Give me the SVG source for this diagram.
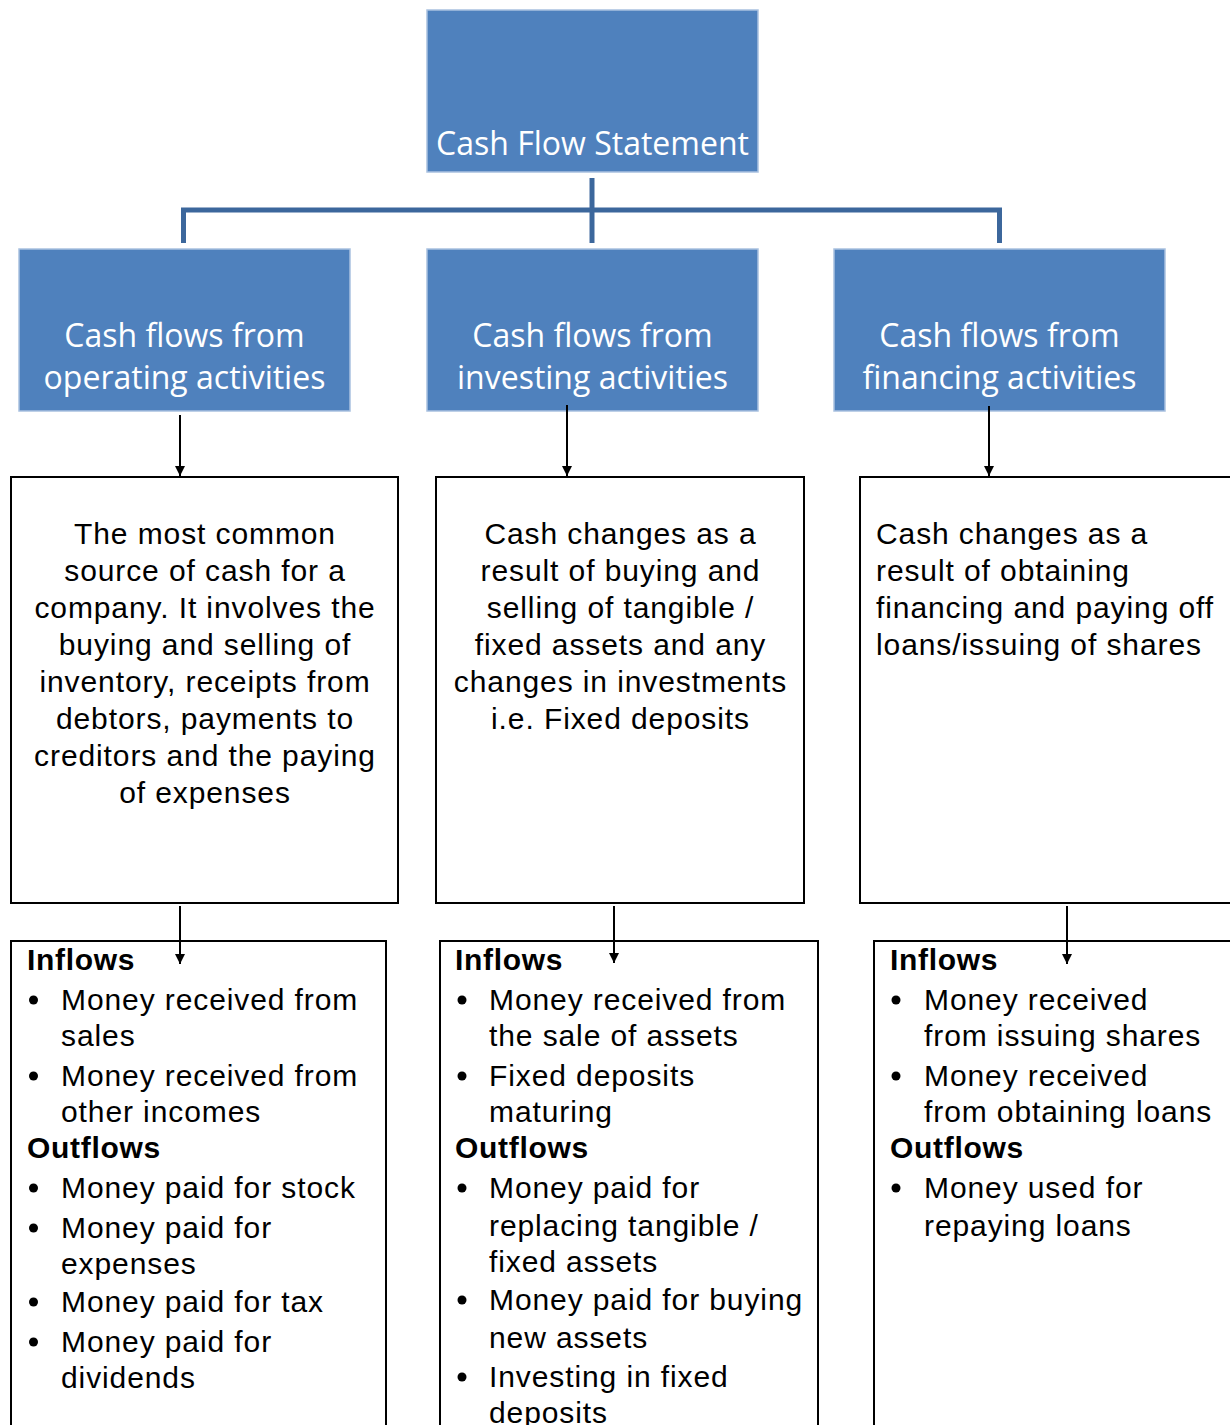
<svg xmlns="http://www.w3.org/2000/svg" width="1230" height="1425" viewBox="0 0 1230 1425">
<defs>
<style>
.blue{fill:#4F81BD;stroke:#A9C1E0;stroke-width:1.5}
.bt{font-family:"Open Sans","Noto Sans",sans-serif;font-size:32px;fill:#FFFFFF;text-anchor:middle}
.box{fill:#FFFFFF;stroke:#000000;stroke-width:2}
.t{font-family:"Liberation Sans",Arial,sans-serif;font-size:30px;fill:#000000;letter-spacing:0.9px}
.c{text-anchor:middle}
.h{font-weight:bold;letter-spacing:0.7px}
.bl{fill:#000000}
.conn{fill:none;stroke:#3C679C;stroke-width:5}
.arr{fill:none;stroke:#000000;stroke-width:2}
</style>
<marker id="ah" markerUnits="userSpaceOnUse" markerWidth="12" markerHeight="12" viewBox="0 0 12 12" refX="10" refY="6" orient="auto">
<path d="M0,1 L10,6 L0,11 Z" fill="#000000"/>
</marker>
</defs>
<rect width="1230" height="1425" fill="#FFFFFF"/>

<g id="cash-flow-statement">
<rect class="blue" x="427" y="10" width="331" height="162"/>
<text class="bt" x="592.5" y="155">Cash Flow Statement</text>
</g>

<g id="operating">
<rect class="blue" x="19" y="249" width="331" height="162"/>
<text class="bt" x="184.5" y="347">Cash flows from</text>
<text class="bt" x="184.5" y="389">operating activities</text>
</g>

<g id="investing">
<rect class="blue" x="427" y="249" width="331" height="162"/>
<text class="bt" x="592.5" y="347">Cash flows from</text>
<text class="bt" x="592.5" y="389">investing activities</text>
</g>

<g id="financing">
<rect class="blue" x="834" y="249" width="331" height="162"/>
<text class="bt" x="999.5" y="347">Cash flows from</text>
<text class="bt" x="999.5" y="389">financing activities</text>
</g>

<g id="operating-desc">
<rect class="box" x="11" y="477" width="387" height="426"/>
<text class="t c" x="205" y="544">The most common</text>
<text class="t c" x="205" y="581">source of cash for a</text>
<text class="t c" x="205" y="618">company. It involves the</text>
<text class="t c" x="205" y="655">buying and selling of</text>
<text class="t c" x="205" y="692">inventory, receipts from</text>
<text class="t c" x="205" y="729">debtors, payments to</text>
<text class="t c" x="205" y="766">creditors and the paying</text>
<text class="t c" x="205" y="803">of expenses</text>
</g>

<g id="investing-desc">
<rect class="box" x="436" y="477" width="368" height="426"/>
<text class="t c" x="620.5" y="544">Cash changes as a</text>
<text class="t c" x="620.5" y="581">result of buying and</text>
<text class="t c" x="620.5" y="618">selling of tangible /</text>
<text class="t c" x="620.5" y="655">fixed assets and any</text>
<text class="t c" x="620.5" y="692">changes in investments</text>
<text class="t c" x="620.5" y="729">i.e. Fixed deposits</text>
</g>

<g id="financing-desc">
<rect class="box" x="860" y="477" width="380" height="426"/>
<text class="t" x="876" y="544">Cash changes as a</text>
<text class="t" x="876" y="581">result of obtaining</text>
<text class="t" x="876" y="618">financing and paying off</text>
<text class="t" x="876" y="655">loans/issuing of shares</text>
</g>

<g id="operating-flows">
<rect class="box" x="11" y="941" width="375" height="500"/>
<text class="t h" x="27" y="970">Inflows</text>
<circle class="bl" cx="33.5" cy="1000" r="4.5"/>
<text class="t" x="61" y="1010">Money received from</text>
<text class="t" x="61" y="1046">sales</text>
<circle class="bl" cx="33.5" cy="1076" r="4.5"/>
<text class="t" x="61" y="1086">Money received from</text>
<text class="t" x="61" y="1122">other incomes</text>
<text class="t h" x="27" y="1158">Outflows</text>
<circle class="bl" cx="33.5" cy="1188" r="4.5"/>
<text class="t" x="61" y="1198">Money paid for stock</text>
<circle class="bl" cx="33.5" cy="1228" r="4.5"/>
<text class="t" x="61" y="1238">Money paid for</text>
<text class="t" x="61" y="1274">expenses</text>
<circle class="bl" cx="33.5" cy="1302" r="4.5"/>
<text class="t" x="61" y="1312">Money paid for tax</text>
<circle class="bl" cx="33.5" cy="1342" r="4.5"/>
<text class="t" x="61" y="1352">Money paid for</text>
<text class="t" x="61" y="1388">dividends</text>
</g>

<g id="investing-flows">
<rect class="box" x="440" y="941" width="378" height="500"/>
<text class="t h" x="455" y="970">Inflows</text>
<circle class="bl" cx="462" cy="1000" r="4.5"/>
<text class="t" x="489" y="1010">Money received from</text>
<text class="t" x="489" y="1046">the sale of assets</text>
<circle class="bl" cx="462" cy="1076" r="4.5"/>
<text class="t" x="489" y="1086">Fixed deposits</text>
<text class="t" x="489" y="1122">maturing</text>
<text class="t h" x="455" y="1158">Outflows</text>
<circle class="bl" cx="462" cy="1188" r="4.5"/>
<text class="t" x="489" y="1198">Money paid for</text>
<text class="t" x="489" y="1236">replacing tangible /</text>
<text class="t" x="489" y="1272">fixed assets</text>
<circle class="bl" cx="462" cy="1300" r="4.5"/>
<text class="t" x="489" y="1310">Money paid for buying</text>
<text class="t" x="489" y="1348">new assets</text>
<circle class="bl" cx="462" cy="1377" r="4.5"/>
<text class="t" x="489" y="1387">Investing in fixed</text>
<text class="t" x="489" y="1423">deposits</text>
</g>

<g id="financing-flows">
<rect class="box" x="874" y="941" width="370" height="500"/>
<text class="t h" x="890" y="970">Inflows</text>
<circle class="bl" cx="896" cy="1000" r="4.5"/>
<text class="t" x="924" y="1010">Money received</text>
<text class="t" x="924" y="1046">from issuing shares</text>
<circle class="bl" cx="896" cy="1076" r="4.5"/>
<text class="t" x="924" y="1086">Money received</text>
<text class="t" x="924" y="1122">from obtaining loans</text>
<text class="t h" x="890" y="1158">Outflows</text>
<circle class="bl" cx="896" cy="1188" r="4.5"/>
<text class="t" x="924" y="1198">Money used for</text>
<text class="t" x="924" y="1236">repaying loans</text>
</g>

<g id="connectors">
<path class="conn" d="M592,178 V243"/>
<path class="conn" d="M183.5,243 V210 H999.5 V243"/>
<path class="arr" d="M180,415 V476" marker-end="url(#ah)"/>
<path class="arr" d="M567,405 V476" marker-end="url(#ah)"/>
<path class="arr" d="M989,406 V476" marker-end="url(#ah)"/>
<path class="arr" d="M180,906 V964" marker-end="url(#ah)"/>
<path class="arr" d="M614,906 V963" marker-end="url(#ah)"/>
<path class="arr" d="M1067,906 V964" marker-end="url(#ah)"/>
</g>
</svg>
